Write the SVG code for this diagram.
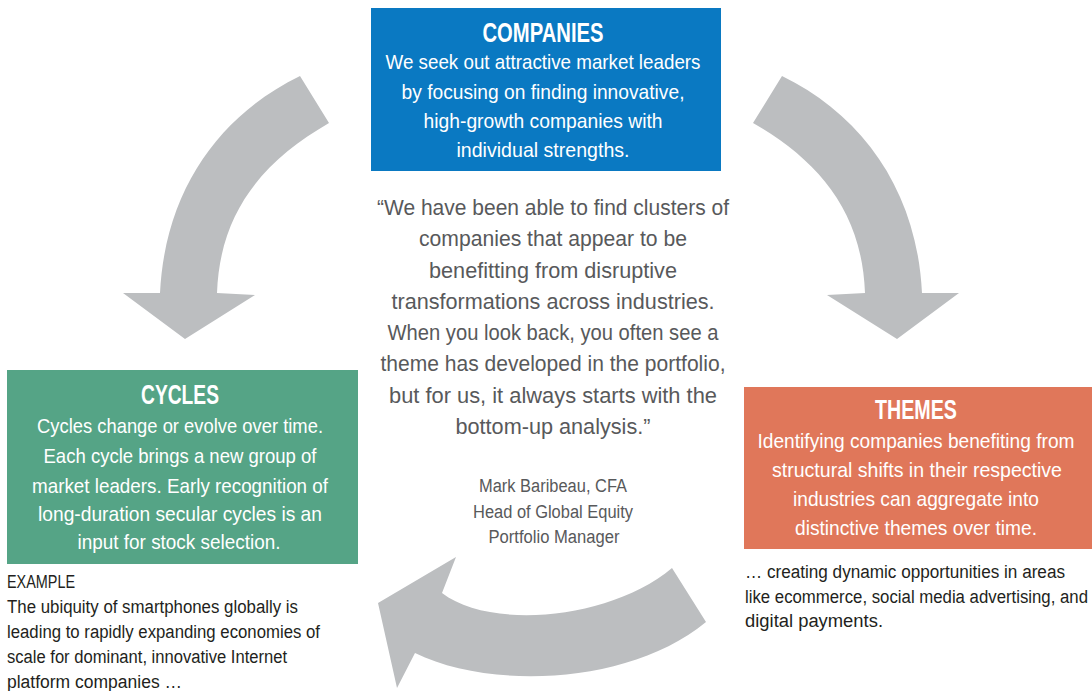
<svg xmlns="http://www.w3.org/2000/svg" width="1092" height="691" viewBox="0 0 1092 691">
<style>
text{font-family:"Liberation Sans",Arial,sans-serif;}
.t{fill:#fff;font-weight:bold;font-size:27px;text-anchor:middle;}
.b{fill:#fff;font-size:21px;text-anchor:middle;}
.q{fill:#58595b;font-size:22px;text-anchor:middle;}
.a{fill:#58595b;font-size:18px;text-anchor:middle;}
.n{fill:#231f20;font-size:18px;}
.arrow{fill:#bcbec0;}
</style>
<g id="connectors">
<path class="arrow" d="M300,76 C220,115 165,190 160,293 L123,293 L185,339 L255,295 L217,293 C220,210 265,160 329,123 Z"/>
<path class="arrow" d="M782,76 C862,115 917,190 922,293 L959,293 L897,339 L827,295 L865,293 C862,210 817,160 753,123 Z"/>
<path class="arrow" d="M672,568 C610,620 490,630 442,593 L456,557 L378,603 L397,688 L415,653 C490,690 630,685 706,622 Z"/>
</g>
<g id="companies">
<rect x="371" y="8" width="350" height="163" fill="#0a79c2"/>
<text class="t" x="543" y="42" textLength="121" lengthAdjust="spacingAndGlyphs">COMPANIES</text>
<text class="b" x="543" y="69" textLength="315" lengthAdjust="spacingAndGlyphs">We seek out attractive market leaders</text>
<text class="b" x="543" y="99" textLength="283" lengthAdjust="spacingAndGlyphs">by focusing on finding innovative,</text>
<text class="b" x="543" y="128" textLength="239" lengthAdjust="spacingAndGlyphs">high-growth companies with</text>
<text class="b" x="543" y="157" textLength="173" lengthAdjust="spacingAndGlyphs">individual strengths.</text>
</g>
<g id="quote">
<text class="q" x="553" y="215" textLength="352" lengthAdjust="spacingAndGlyphs">“We have been able to find clusters of</text>
<text class="q" x="553" y="246" textLength="268" lengthAdjust="spacingAndGlyphs">companies that appear to be</text>
<text class="q" x="553" y="278" textLength="248" lengthAdjust="spacingAndGlyphs">benefitting from disruptive</text>
<text class="q" x="553" y="309" textLength="323" lengthAdjust="spacingAndGlyphs">transformations across industries.</text>
<text class="q" x="553" y="340" textLength="331" lengthAdjust="spacingAndGlyphs">When you look back, you often see a</text>
<text class="q" x="553" y="371" textLength="345" lengthAdjust="spacingAndGlyphs">theme has developed in the portfolio,</text>
<text class="q" x="553" y="403" textLength="328" lengthAdjust="spacingAndGlyphs">but for us, it always starts with the</text>
<text class="q" x="553" y="434" textLength="195" lengthAdjust="spacingAndGlyphs">bottom-up analysis.”</text>
<text class="a" x="553" y="492" textLength="148" lengthAdjust="spacingAndGlyphs">Mark Baribeau, CFA</text>
<text class="a" x="553" y="518" textLength="160" lengthAdjust="spacingAndGlyphs">Head of Global Equity</text>
<text class="a" x="554" y="543" textLength="131" lengthAdjust="spacingAndGlyphs">Portfolio Manager</text>
</g>
<g id="cycles">
<rect x="7" y="370" width="351" height="194" fill="#55a486"/>
<text class="t" x="180" y="404" textLength="78" lengthAdjust="spacingAndGlyphs">CYCLES</text>
<text class="b" x="180" y="433" textLength="286" lengthAdjust="spacingAndGlyphs">Cycles change or evolve over time.</text>
<text class="b" x="180" y="463" textLength="273" lengthAdjust="spacingAndGlyphs">Each cycle brings a new group of</text>
<text class="b" x="180" y="493" textLength="296" lengthAdjust="spacingAndGlyphs">market leaders. Early recognition of</text>
<text class="b" x="180" y="521" textLength="284" lengthAdjust="spacingAndGlyphs">long-duration secular cycles is an</text>
<text class="b" x="179" y="549" textLength="203" lengthAdjust="spacingAndGlyphs">input for stock selection.</text>
</g>
<g id="example">
<text class="n" x="7" y="588" textLength="68" lengthAdjust="spacingAndGlyphs">EXAMPLE</text>
<text class="n" x="7" y="613" textLength="291" lengthAdjust="spacingAndGlyphs">The ubiquity of smartphones globally is</text>
<text class="n" x="7" y="638" textLength="313" lengthAdjust="spacingAndGlyphs">leading to rapidly expanding economies of</text>
<text class="n" x="7" y="663" textLength="280" lengthAdjust="spacingAndGlyphs">scale for dominant, innovative Internet</text>
<text class="n" x="7" y="688" textLength="175" lengthAdjust="spacingAndGlyphs">platform companies …</text>
</g>
<g id="themes">
<rect x="744" y="387" width="348" height="162" fill="#e0775a"/>
<text class="t" x="916" y="419" textLength="82" lengthAdjust="spacingAndGlyphs">THEMES</text>
<text class="b" x="916" y="448" textLength="317" lengthAdjust="spacingAndGlyphs">Identifying companies benefiting from</text>
<text class="b" x="917" y="477" textLength="290" lengthAdjust="spacingAndGlyphs">structural shifts in their respective</text>
<text class="b" x="916" y="506" textLength="246" lengthAdjust="spacingAndGlyphs">industries can aggregate into</text>
<text class="b" x="916" y="535" textLength="242" lengthAdjust="spacingAndGlyphs">distinctive themes over time.</text>
</g>
<g id="themes-note">
<text class="n" x="745" y="578" textLength="320" lengthAdjust="spacingAndGlyphs">… creating dynamic opportunities in areas</text>
<text class="n" x="745" y="603" textLength="343" lengthAdjust="spacingAndGlyphs">like ecommerce, social media advertising, and</text>
<text class="n" x="745" y="627" textLength="138" lengthAdjust="spacingAndGlyphs">digital payments.</text>
</g>
</svg>
